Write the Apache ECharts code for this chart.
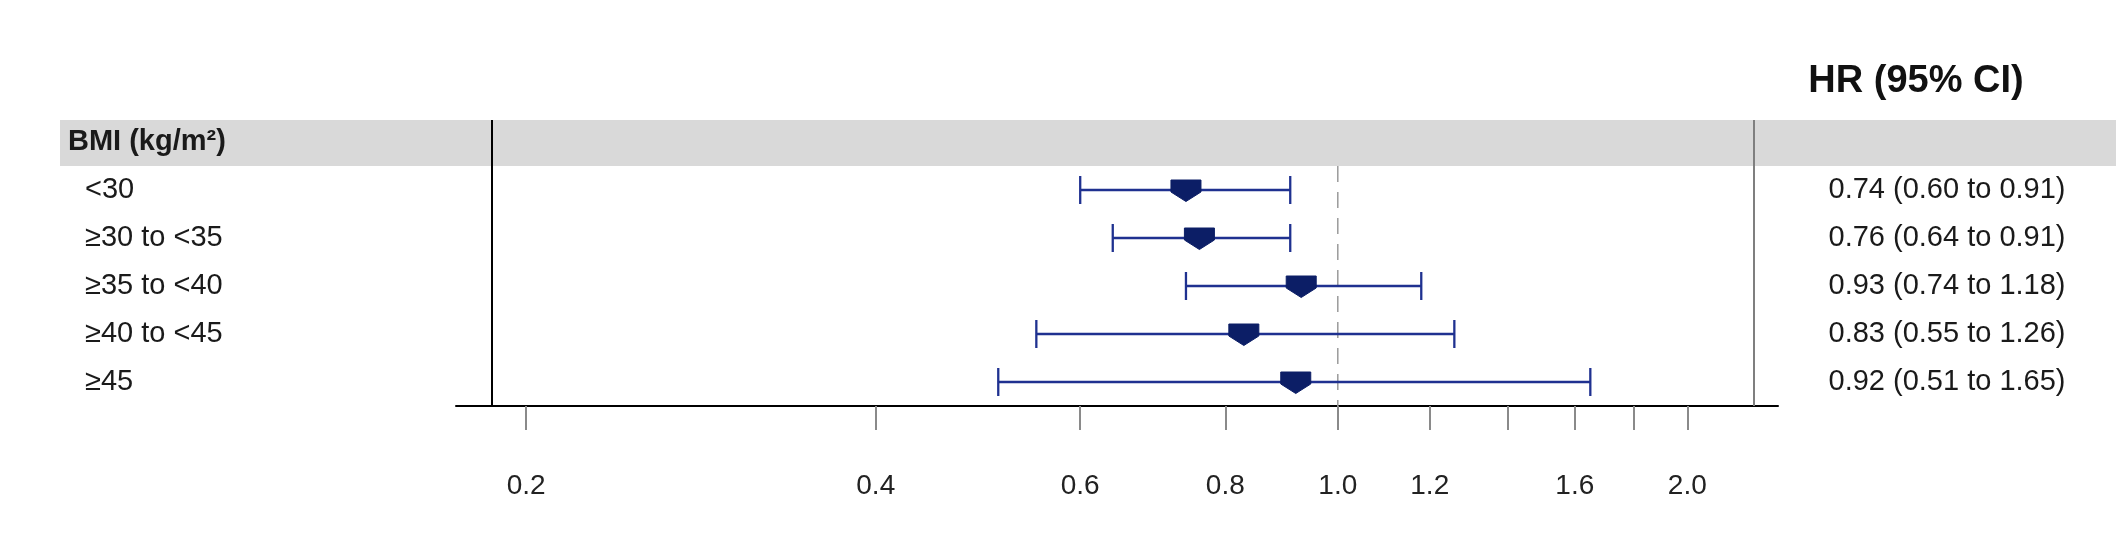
<!DOCTYPE html>
<html><head><meta charset="utf-8">
<script src="https://cdn.jsdelivr.net/npm/echarts@6/dist/echarts.min.js"></script>
<style>html,body{margin:0;padding:0;background:#fff}#c{width:2116px;height:534px}</style>
</head><body><div id="c"></div>
<script>
const headerLabel = 'BMI (kg/m²)';
const columnTitle = 'HR (95% CI)';
const categories = ['<30', '≥30 to <35', '≥35 to <40', '≥40 to <45', '≥45'];
const hr = [0.74, 0.76, 0.93, 0.83, 0.92];
const ciLow = [0.60, 0.64, 0.74, 0.55, 0.51];
const ciHigh = [0.91, 0.91, 1.18, 1.26, 1.65];
const tickValues = [0.2, 0.4, 0.6, 0.8, 1.0, 1.2, 1.4, 1.6, 1.8, 2.0];
const tickLabels = [0.2, 0.4, 0.6, 0.8, 1.0, 1.2, 1.6, 2.0];
const refValue = 1.0;
const xMin = 0.174, xMax = 2.394;

const FONT = "'Liberation Sans', Arial, sans-serif";
const lineColor = '#1f3190';
const markerColor = '#0c1e66';
const textColor = '#1a1a1a';

const rowsAll = [headerLabel].concat(categories);
const ciText = categories.map((c, i) => hr[i].toFixed(2) + ' (' + ciLow[i].toFixed(2) + ' to ' + ciHigh[i].toFixed(2) + ')');
const ciData = categories.map((c, i) => [ciLow[i], ciHigh[i], hr[i], c]);

const chart = echarts.init(document.getElementById('c'), null, {renderer: 'canvas'});
chart.setOption({
  animation: false,
  backgroundColor: '#fff',
  textStyle: {fontFamily: FONT},
  grid: {left: 456, right: 338, top: 118, bottom: 128, containLabel: false},
  xAxis: [
    {type: 'log', logBase: 10, min: xMin, max: xMax, show: false},
    {type: 'value', min: Math.log10(xMin), max: Math.log10(xMax), position: 'bottom',
     axisLine: {show: true, onZero: false, lineStyle: {color: '#000', width: 2}},
     axisTick: {show: true, length: 24, customValues: tickValues.map(v => Math.log10(v)), lineStyle: {color: '#8a8a8a', width: 2}},
     axisLabel: {show: true, customValues: tickLabels.map(v => Math.log10(v)), margin: 80, verticalAlign: 'middle',
       fontSize: 28, color: '#222', fontFamily: FONT,
       formatter: function (v) {
         let best = tickLabels[0], bd = Infinity;
         tickLabels.forEach(t => { const d = Math.abs(Math.log10(t) - v); if (d < bd) { bd = d; best = t; } });
         return best.toFixed(1);
       }},
     splitLine: {show: false}}
  ],
  yAxis: [
    {type: 'category', inverse: true, data: rowsAll, position: 'left',
     axisLine: {show: false}, axisTick: {show: false}, splitLine: {show: false},
     axisLabel: {interval: 0, align: 'left', margin: 388, color: textColor, fontFamily: FONT,
       formatter: function (v, i) { return i === 0 ? '{h|' + v + '}' : '{r|' + v + '}'; },
       rich: {h: {fontWeight: 'bold', fontSize: 29, color: textColor, fontFamily: FONT},
              r: {fontSize: 29, color: textColor, fontFamily: FONT, padding: [0, 0, 0, 17]}}}},
    {type: 'category', inverse: true, data: rowsAll, position: 'right',
     axisLine: {show: false}, axisTick: {show: false}, splitLine: {show: false},
     axisLabel: {interval: 0, align: 'center', margin: 169, fontSize: 29, color: textColor, fontFamily: FONT,
       formatter: function (v, i) { return i === 0 ? '' : ciText[i - 1]; }}},
    {type: 'value', inverse: true, min: 0, max: 6, show: false}
  ],
  graphic: {elements: [
    {type: 'rect', z: -10, shape: {x: 60, y: 120, width: 2056, height: 46}, style: {fill: '#d9d9d9'}},
    {type: 'line', z: 10, shape: {x1: 492, y1: 120, x2: 492, y2: 406}, style: {stroke: '#000', lineWidth: 2}},
    {type: 'line', z: 10, shape: {x1: 1754, y1: 120, x2: 1754, y2: 406}, style: {stroke: '#7f7f7f', lineWidth: 2}},
    {type: 'text', z: 10, x: 1916, y: 82, style: {text: columnTitle, fontFamily: FONT, fontSize: 38, fontWeight: 'bold', fill: '#111', align: 'center', verticalAlign: 'middle'}}
  ]},
  series: [
    {type: 'line', xAxisIndex: 0, yAxisIndex: 2, silent: true, symbol: 'none', z: 1,
     data: [[refValue, 1], [refValue, 6]],
     lineStyle: {color: '#9a9a9a', width: 1.5, type: [16, 10]}},
    {type: 'custom', xAxisIndex: 0, yAxisIndex: 0, z: 3,
     dimensions: ['low', 'high', 'hr', {name: 'cat', type: 'ordinal'}],
     encode: {x: [0, 1, 2], y: 3},
     data: ciData,
     renderItem: function (params, api) {
       const row = api.value(3);
       const pLo = api.coord([api.value(0), row]);
       const pHi = api.coord([api.value(1), row]);
       const pM = api.coord([api.value(2), row]);
       const y = pLo[1];
       const cap = 14, hw = 15;
       const ls = {stroke: lineColor, lineWidth: 2.3};
       return {type: 'group', children: [
         {type: 'line', shape: {x1: pLo[0], y1: y, x2: pHi[0], y2: y}, style: ls},
         {type: 'line', shape: {x1: pLo[0], y1: y - cap, x2: pLo[0], y2: y + cap}, style: ls},
         {type: 'line', shape: {x1: pHi[0], y1: y - cap, x2: pHi[0], y2: y + cap}, style: ls},
         {type: 'polygon', shape: {points: [[pM[0] - hw, y - 10], [pM[0] + hw, y - 10], [pM[0] + hw, y + 2], [pM[0], y + 11.5], [pM[0] - hw, y + 2]]},
          style: {fill: markerColor, stroke: markerColor, lineWidth: 1}}
       ]};
     }}
  ]
});
</script></body></html>
